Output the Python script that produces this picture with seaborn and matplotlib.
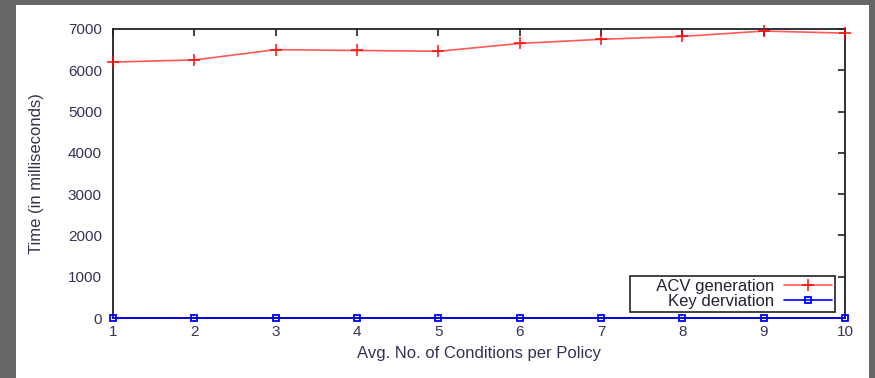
import matplotlib
matplotlib.use("Agg")
import matplotlib.pyplot as plt
import seaborn as sns
import pandas as pd
from matplotlib.patches import Rectangle

conditions = [1, 2, 3, 4, 5, 6, 7, 8, 9, 10]
acv_generation = [6200, 6250, 6500, 6480, 6460, 6650, 6750, 6820, 6950, 6900]
key_derivation = [5, 5, 5, 5, 5, 5, 5, 5, 5, 5]
y_ticks = [0, 1000, 2000, 3000, 4000, 5000, 6000, 7000]
series_labels = ['ACV generation', 'Key derviation']

sns.set_theme(style="white")
plt.rcParams['font.family'] = ['Liberation Sans', 'DejaVu Sans']

fig = plt.figure(figsize=(8.75, 3.78), dpi=100)
fig.patch.set_facecolor('#666666')
bg = Rectangle((16/875, 0), (869-16)/875, (378-5)/378,
               transform=fig.transFigure, facecolor='white',
               edgecolor='none', zorder=-10)
fig.add_artist(bg)
ax = fig.add_axes([113/875, 60/378, 732/875, 289/378])
ax.set_zorder(1)
ax.set_facecolor('white')

df = pd.DataFrame({'x': conditions, 'acv': acv_generation, 'key': key_derivation})
sns.lineplot(data=df, x='x', y='acv', ax=ax, color='#ff3030', lw=1.2, alpha=0.8,
             marker='+', markersize=9, markeredgewidth=1.3, markeredgecolor='red',
             label='     ' + series_labels[0], clip_on=False, zorder=5)
sns.lineplot(data=df, x='x', y='key', ax=ax, color='blue', lw=1.2,
             marker='s', markersize=5, markerfacecolor='none', markeredgewidth=1.3,
             markeredgecolor='blue', label=series_labels[1], clip_on=False, zorder=6)

ax.set_xlim(1, 10)
ax.set_ylim(0, 7000)
ax.set_xticks(conditions)
ax.set_yticks(y_ticks)
ax.tick_params(direction='in', length=5, width=1.2, colors='#222222',
               top=True, right=True, labelsize=11, labelcolor='#333355')
ax.tick_params(axis='y', pad=8)
ax.tick_params(axis='x', pad=5)
for s in ax.spines.values():
    s.set_color('#222222')
    s.set_linewidth(1.3)
ax.set_xlabel('Avg. No. of Conditions per Policy', fontsize=12, color='#333355', labelpad=5)
ax.set_ylabel('Time (in milliseconds)', fontsize=12, color='#333355', labelpad=17)

leg = ax.legend(loc='lower right', bbox_to_anchor=(0.987, 0.02), borderaxespad=0,
                markerfirst=False, frameon=True, fancybox=False, framealpha=1,
                edgecolor='#222222', fontsize=12, handlelength=2.9,
                borderpad=0.2, labelspacing=0.0, handletextpad=0.6)
leg.get_frame().set_linewidth(1.2)
for t in leg.get_texts():
    t.set_ha('right')
    t.set_color('#222233')

fig.savefig('out.png', dpi=100, facecolor=fig.get_facecolor())
